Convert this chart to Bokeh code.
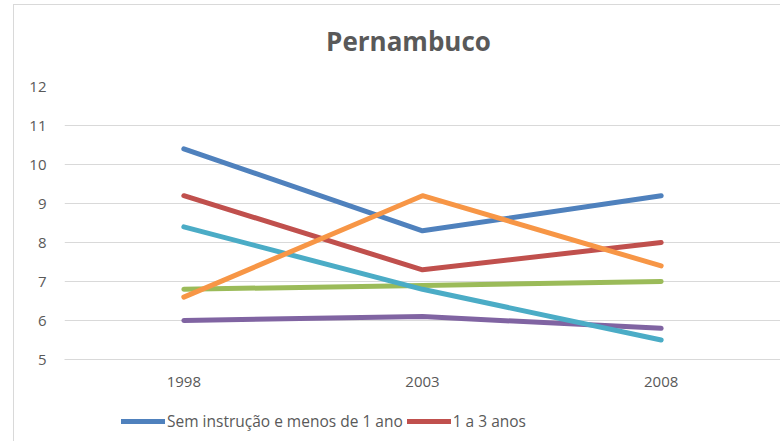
from bokeh.plotting import figure
from bokeh.layouts import column
from bokeh.models import FactorRange, Range1d, FixedTicker, Legend, LegendItem, Label
from bokeh.embed import file_html
from bokeh.resources import INLINE

years = ["1998", "2003", "2008"]
sem_instrucao = [10.4, 8.3, 9.2]
anos_1_3 = [9.2, 7.3, 8.0]
anos_4_7 = [6.8, 6.9, 7.0]
anos_8_10 = [6.0, 6.1, 5.8]
anos_11_14 = [8.4, 6.8, 5.5]
anos_15_mais = [6.6, 9.2, 7.4]
y_ticks = [5, 6, 7, 8, 9, 10, 11, 12]
title_text = "Pernambuco"

series = [
    ("Sem instrução e menos de 1 ano", sem_instrucao, "#4F81BD", True),
    ("1 a 3 anos", anos_1_3, "#C0504D", True),
    ("4 a 7 anos", anos_4_7, "#9BBB59", False),
    ("8 a 10 anos", anos_8_10, "#8064A2", False),
    ("11 a 14 anos", anos_11_14, "#4BACC6", False),
    ("15 anos ou mais", anos_15_mais, "#F79646", False),
]

FONT = "Open Sans"
GREY = "#595959"
W = 766

# title strip (1 data unit = 1 px)
tf = figure(
    width=W, height=60, x_range=Range1d(0, W), y_range=Range1d(0, 60),
    output_backend="svg", toolbar_location=None,
    x_axis_type=None, y_axis_type=None, min_border=0,
)
tf.outline_line_color = None
tf.grid.visible = False
tf.add_layout(Label(
    x=368, y=25, text=title_text, text_align="center", text_baseline="middle",
    text_font=FONT, text_font_size="26px", text_font_style="bold", text_color=GREY,
))

# main chart
p = figure(
    x_range=FactorRange(*years, range_padding=0),
    y_range=Range1d(5, 12),
    width=W, height=335, title=None,
    output_backend="svg", toolbar_location=None,
    min_border_left=50, min_border_right=0, min_border_top=21, min_border_bottom=41,
)
p.outline_line_color = None
p.xgrid.grid_line_color = None
p.ygrid.grid_line_color = "#d9d9d9"
p.ygrid.grid_line_width = 1

p.yaxis.ticker = FixedTicker(ticks=y_ticks)
p.yaxis.axis_line_color = None
p.yaxis.major_tick_line_color = None
p.yaxis.minor_tick_line_color = None
p.yaxis.major_label_standoff = 12
p.xaxis.axis_line_color = "#d9d9d9"
p.xaxis.axis_line_width = 1
p.xaxis.major_tick_line_color = None
p.xaxis.major_label_standoff = 11
for ax in (p.xaxis, p.yaxis):
    ax.major_label_text_font = FONT
    ax.major_label_text_font_size = "15px"
    ax.major_label_text_color = GREY

# legend strip (series drawn outside its visible range; only the legend shows)
lf = figure(
    width=W, height=41, x_range=FactorRange(*years, range_padding=0),
    y_range=Range1d(0, 1),
    output_backend="svg", toolbar_location=None,
    x_axis_type=None, y_axis_type=None, min_border=0,
)
lf.outline_line_color = None
lf.grid.visible = False

items = []
for name, vals, color, show in series:
    p.line(years, vals, line_color=color, line_width=5, line_cap="round", line_join="round")
    if show:
        r = lf.line(years, vals, line_color=color, line_width=5, line_cap="round")
        items.append(LegendItem(label=name, renderers=[r]))

legend = Legend(
    items=items, orientation="horizontal", location=(57, 9),
    glyph_width=44, glyph_height=20, label_standoff=2, spacing=4,
    padding=0, margin=0, border_line_color=None, background_fill_alpha=0,
    label_text_font=FONT, label_text_font_size="15.5px", label_text_color=GREY,
)
lf.add_layout(legend, "center")

layout = column(tf, p, lf, spacing=0, margin=(4, 0, 0, 13))
layout.styles = {"border-left": "1px solid #d9d9d9", "border-top": "1px solid #d9d9d9"}

open("out.html", "w").write(file_html(layout, INLINE))
